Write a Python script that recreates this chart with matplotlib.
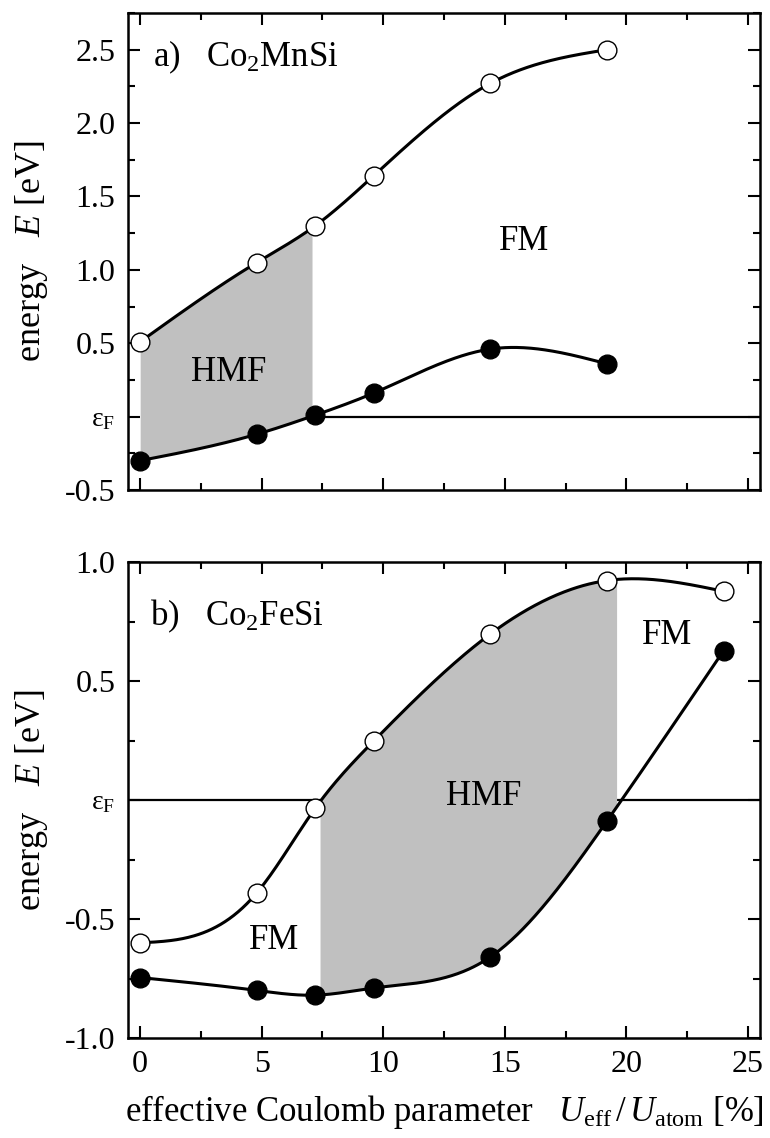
import numpy as np
import matplotlib
matplotlib.use('Agg')
import matplotlib.pyplot as plt

plt.rcParams['font.family'] = ['Liberation Serif', 'DejaVu Serif']
plt.rcParams['mathtext.fontset'] = 'custom'
plt.rcParams['mathtext.rm'] = 'Liberation Serif'
plt.rcParams['mathtext.it'] = 'Liberation Serif:italic'
plt.rcParams['mathtext.bf'] = 'Liberation Serif:bold'
plt.rcParams['axes.unicode_minus'] = False

# U_eff / U_atom [%]
u_pct = [0, 4.8, 7.2, 9.6, 14.4, 19.2]
u_pct_fe = [0, 4.8, 7.2, 9.6, 14.4, 19.2, 24]

# a) Co2MnSi : open = unoccupied band edge, filled = occupied band edge
mn_open = [0.51, 1.05, 1.30, 1.64, 2.27, 2.50]
mn_filled = [-0.30, -0.12, 0.01, 0.16, 0.46, 0.36]

# b) Co2FeSi
fe_open = [-0.60, -0.39, -0.035, 0.247, 0.697, 0.922, 0.877]
fe_filled = [-0.746, -0.80, -0.82, -0.79, -0.66, -0.089, 0.627]

# half-metallic ranges (where E_F lies in the gap)
hmf_mn = (0.0, 7.07)
hmf_fe = (7.4, 19.6)

yticks_mn = [-0.5, 0.0, 0.5, 1.0, 1.5, 2.0, 2.5]
ylabels_mn = ['-0.5', r'$\mathrm{\varepsilon_F}$', '0.5', '1.0', '1.5', '2.0', '2.5']
yticks_fe = [-1.0, -0.5, 0.0, 0.5, 1.0]
ylabels_fe = ['-1.0', '-0.5', r'$\mathrm{\varepsilon_F}$', '0.5', '1.0']
xticks = [0, 5, 10, 15, 20, 25]


def natural_spline(xk, yk, xs):
    # natural cubic spline, only used to draw smooth curves through the points
    xk = np.asarray(xk, float)
    yk = np.asarray(yk, float)
    n = len(xk)
    h = np.diff(xk)
    A = np.zeros((n, n))
    r = np.zeros(n)
    A[0, 0] = A[-1, -1] = 1
    for i in range(1, n - 1):
        A[i, i - 1] = h[i - 1]
        A[i, i] = 2 * (h[i - 1] + h[i])
        A[i, i + 1] = h[i]
        r[i] = 6 * ((yk[i + 1] - yk[i]) / h[i] - (yk[i] - yk[i - 1]) / h[i - 1])
    m = np.linalg.solve(A, r)
    idx = np.clip(np.searchsorted(xk, xs) - 1, 0, n - 2)
    x0, x1 = xk[idx], xk[idx + 1]
    hh = x1 - x0
    a = (x1 - xs) / hh
    b = (xs - x0) / hh
    return a * yk[idx] + b * yk[idx + 1] + ((a ** 3 - a) * m[idx] + (b ** 3 - b) * m[idx + 1]) * hh ** 2 / 6


def draw_panel(ax, x, y_open, y_filled, hmf, line_from):
    xs = np.linspace(x[0], x[-1], 400)
    xf = np.linspace(hmf[0], hmf[1], 300)
    ax.hlines(0, line_from, 25.5, color='black', lw=1.6, zorder=1)
    ax.fill_between(xf, natural_spline(x, y_filled, xf), natural_spline(x, y_open, xf),
                    color='#c0c0c0', lw=0, zorder=2)
    ax.plot(xs, natural_spline(x, y_open, xs), color='black', lw=2.2, zorder=3)
    ax.plot(xs, natural_spline(x, y_filled, xs), color='black', lw=2.2, zorder=3)
    ax.plot(x, y_open, 'o', ms=13.5, mfc='white', mec='black', mew=1.0, zorder=4)
    ax.plot(x, y_filled, 'o', ms=13.5, mfc='black', mec='black', mew=1.0, zorder=4)
    ax.set_xlim(-0.5, 25.5)
    ax.set_xticks(xticks)
    ax.set_xticks(np.arange(0, 26, 2.5), minor=True)
    ax.tick_params(which='both', direction='in', top=True, right=True, width=1.5)
    ax.tick_params(which='major', length=8.5, labelsize=23, pad=9)
    ax.tick_params(which='minor', length=5)
    for s in ax.spines.values():
        s.set_linewidth(1.8)
    ax.set_ylabel(r'energy   $E$ [eV]', fontsize=26)
    ax.yaxis.set_label_coords(-0.124, 0.5)


def small_eps(ax):
    for lbl in ax.get_yticklabels():
        if lbl.get_text().startswith('$'):
            lbl.set_fontsize(20)


fig = plt.figure(figsize=(7.7, 11.38), dpi=100)
ax1 = fig.add_axes([128 / 770, 1 - 490 / 1138, 632 / 770, 477 / 1138])
ax2 = fig.add_axes([128 / 770, 1 - 1038 / 1138, 632 / 770, 476 / 1138])

# panel a
draw_panel(ax1, u_pct, mn_open, mn_filled, hmf_mn, hmf_mn[1])
ax1.set_ylim(-0.5, 2.75)
ax1.set_yticks(yticks_mn, ylabels_mn)
ax1.set_yticks(np.arange(-0.5, 2.76, 0.25), minor=True)
ax1.tick_params(axis='x', labelbottom=False)
small_eps(ax1)
ax1.text(0.53, 2.39, r'a)   Co$_2$MnSi', fontsize=25, ha='left', va='baseline')
ax1.text(3.66, 0.30, 'HMF', fontsize=25, ha='center', va='center')
ax1.text(15.8, 1.19, 'FM', fontsize=25, ha='center', va='center')

# panel b
draw_panel(ax2, u_pct_fe, fe_open, fe_filled, hmf_fe, -0.5)
ax2.set_ylim(-1.0, 1.0)
ax2.set_yticks(yticks_fe, ylabels_fe)
ax2.set_yticks(np.arange(-1.0, 1.01, 0.25), minor=True)
small_eps(ax2)
ax2.text(0.41, 0.735, r'b)   Co$_2$FeSi', fontsize=25, ha='left', va='baseline')
ax2.text(5.51, -0.59, 'FM', fontsize=25, ha='center', va='center')
ax2.text(14.14, 0.013, 'HMF', fontsize=25, ha='center', va='center')
ax2.text(21.67, 0.69, 'FM', fontsize=25, ha='center', va='center')
ax2.set_xlabel(r'effective Coulomb parameter   $U_{\mathrm{eff}}\,/\,U_{\mathrm{atom}}$ [%]',
               fontsize=25, labelpad=10)

fig.savefig('out.png', dpi=100)
